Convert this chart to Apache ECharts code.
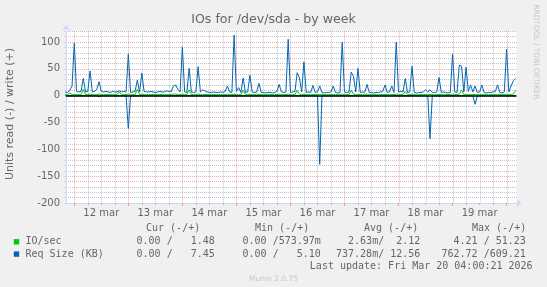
<!DOCTYPE html>
<html><head><meta charset="utf-8">
<script src="https://cdn.jsdelivr.net/npm/echarts@6/dist/echarts.min.js"></script>
<style>html,body{margin:0;padding:0;background:#f0f0f0;}#c{width:547px;height:287px;}</style>
</head><body><div id="c"></div>
<script>
// ---------------- DATA ----------------
const dayLabels = ['12 mar', '13 mar', '14 mar', '15 mar', '16 mar', '17 mar', '18 mar', '19 mar'];
const yTickLabels = [-200, -150, -100, -50, 0, 50, 100];
const firstSampleHour = -4; // hourly samples, hours relative to 12 mar 00:00

// Req Size (KB), write (+)
const reqSizeWrite = [
  7,6,10,18,98,8,7,8,32,7,8,46,7,8,12,26,8,7,8,7,6,8,7,7,
  9,7,8,7,77,6,7,8,29,7,42,8,7,7,8,7,6,7,8,7,7,9,8,7,
  18,20,12,7,91,7,6,51,7,6,7,54,7,11,9,7,6,6,7,6,6,7,6,8,
  18,7,6,113,8,15,6,33,6,7,38,7,6,7,23,6,6,5,6,6,5,6,8,21,
  7,6,7,105,6,7,8,43,33,7,63,6,7,6,19,6,7,18,6,5,6,6,7,18,
  6,5,6,100,7,6,7,44,36,7,51,6,7,6,21,6,6,5,6,6,7,8,20,6,
  7,18,6,100,7,8,7,32,6,7,55,6,5,6,6,7,11,7,11,6,6,7,34,6,
  7,6,5,6,77,7,6,57,55,7,53,8,20,7,18,6,7,20,6,5,6,6,7,8,
  20,6,5,7,87,7,18,28,32
];
// Req Size (KB), read (-)
const reqSizeRead = [
  0,0,0,0,0,0,0,0,0,0,0,0,0,0,0,2,0,0,0,0,0,0,0,0,
  0,0,0,0,61,0,0,0,0,0,0,0,0,0,0,0,0,0,0,0,0,0,0,0,
  0,0,0,0,0,0,0,0,0,0,0,0,0,0,0,0,0,0,0,0,0,0,0,0,
  0,0,0,0,0,0,0,0,0,0,0,0,0,0,0,0,0,0,0,0,0,0,0,0,
  0,0,0,0,0,0,0,0,0,0,0,0,0,0,0,0,0,128,0,0,0,0,0,0,
  0,0,0,0,0,0,0,0,0,0,0,0,0,0,0,0,0,0,0,0,0,0,0,0,
  0,0,0,0,0,0,0,0,0,0,0,0,0,0,0,0,0,0,80,0,0,0,0,0,
  0,0,0,0,0,0,0,0,0,0,0,0,0,0,16,0,0,0,0,0,0,0,0,0,
  0,0,0,0,0,0,0,0,0
];
// IO/sec, write (+)
const ioWrite = [
  2,2,5,2,2,2,2,2,12,2,2,3,2,2,2,3,2,2,2,2,2,2,2,2,
  7,2,2,2,3,2,2,2,12,2,3,2,2,2,2,2,2,2,2,2,2,2,2,2,
  3,3,2,2,3,2,2,11,2,2,2,3,2,2,2,2,2,2,2,2,2,2,2,2,
  3,2,2,3,2,2,2,10,2,2,2,2,2,3,2,2,2,2,2,2,2,2,2,3,
  2,2,2,3,2,2,2,10,3,2,3,2,2,2,2,2,2,2,2,2,2,2,2,2,
  2,2,2,3,2,2,2,10,3,2,2,2,2,2,3,2,2,2,2,2,2,2,2,2,
  2,2,2,3,2,2,2,8,2,2,3,2,2,2,2,2,2,2,2,2,2,2,2,2,
  2,2,2,2,3,2,2,3,10,2,2,2,2,2,2,2,2,2,2,2,2,2,2,2,
  2,2,2,2,3,2,2,3,10
];

const legendHeader = ['Cur (-/+)', 'Min (-/+)', 'Avg (-/+)', 'Max (-/+)'];
const legendNames = ['IO/sec', 'Req Size (KB)'];
const legendCur = ['0.00 /   1.48', '0.00 /   7.45'];
const legendMin = ['0.00 /573.97m', '0.00 /   5.10'];
const legendAvg = ['2.63m/  2.12', '737.28m/ 12.56'];
const legendMax = ['4.21 / 51.23', '762.72 /609.21'];
const titleText = 'IOs for /dev/sda - by week';
const yAxisTitle = 'Units read (-) / write (+)';
const lastUpdate = 'Last update: Fri Mar 20 04:00:21 2026';

// ---------------- CHART ----------------
const X_MIN = -3.68, X_MAX = 196.4;
const RED = 'rgba(222,79,79,0.5)', GRAY = 'rgba(143,143,143,0.55)';
const AXIS = '#CFD6F8', FONT = '#666666';
const C_IO = '#00CC00', C_REQ = '#0066B3';

const toPts = (arr, sign) => arr.map((v, i) => [firstSampleHour + i, sign * v]);

const dayTicks = [], minorTicks = [], labelHours = [], gridHours = [];
for (let h = 0; h <= X_MAX; h += 6) {
  if (h % 24 === 0) dayTicks.push(h); else minorTicks.push(h);
  gridHours.push([h]);
}
dayLabels.forEach((_, i) => labelHours.push(i * 24 + 12));

const mono = '10px "DejaVu Sans Mono"';
const graphic = [
  { type: 'text', x: 273.5, y: 20, style: { text: titleText, font: '12.6px "DejaVu Sans"', fill: FONT, align: 'center', verticalAlign: 'middle', textAlign: 'center', textVerticalAlign: 'middle' } },
  { type: 'text', x: 10.5, y: 114, rotation: Math.PI / 2, style: { text: yAxisTitle, font: '11px "DejaVu Sans"', fill: FONT, align: 'center', verticalAlign: 'middle', textAlign: 'center', textVerticalAlign: 'middle' } },
  { type: 'text', x: 536, y: 52, rotation: -Math.PI / 2, style: { text: 'RRDTOOL / TOBI OETIKER', font: '7.4px "DejaVu Sans"', fill: '#c6c6c6', align: 'center', verticalAlign: 'middle', textAlign: 'center', textVerticalAlign: 'middle' } },
  { type: 'text', x: 273.5, y: 279.4, style: { text: 'Munin 2.0.75', font: '7.5px "DejaVu Sans"', fill: '#c6c6c6', align: 'center', verticalAlign: 'middle', textAlign: 'center', textVerticalAlign: 'middle' } },
  { type: 'text', x: 532.6, y: 266.2, style: { text: lastUpdate, font: mono, fill: FONT, align: 'right', verticalAlign: 'middle', textAlign: 'right', textVerticalAlign: 'middle' } }
];
const headerEnds = [200.2, 309.2, 418.2, 526.2];
legendHeader.forEach((t, i) => graphic.push({ type: 'text', x: headerEnds[i], y: 228.9, style: { text: t, font: mono, fill: FONT, align: 'right', verticalAlign: 'middle', textAlign: 'right', textVerticalAlign: 'middle' } }));
const rowY = [241.8, 254.1];
const colEnds = [214.8, 320.8, 420.3, 525.8];
const rowColors = [C_IO, C_REQ];
legendNames.forEach((name, r) => {
  graphic.push({ type: 'rect', shape: { x: 13.8, y: rowY[r] - 2.7, width: 5.4, height: 5.4 }, style: { fill: rowColors[r] } });
  graphic.push({ type: 'text', x: 25.5, y: rowY[r], style: { text: name, font: mono, fill: FONT, align: 'left', verticalAlign: 'middle', textAlign: 'left', textVerticalAlign: 'middle' } });
  [legendCur, legendMin, legendAvg, legendMax].forEach((col, c) => {
    graphic.push({ type: 'text', x: colEnds[c], y: rowY[r], style: { text: col[r], font: mono, fill: FONT, align: 'right', verticalAlign: 'middle', textAlign: 'right', textVerticalAlign: 'middle' } });
  });
});

const chart = echarts.init(document.getElementById('c'), null, { renderer: 'canvas' });
chart.setOption({
  animation: false,
  backgroundColor: '#f0f0f0',
  grid: { left: 66, right: 30.5, top: 31.3, bottom: 84, show: true, backgroundColor: '#ffffff', borderWidth: 0 },
  xAxis: [{
    type: 'value', min: X_MIN, max: X_MAX,
    axisLine: { show: true, onZero: false, lineStyle: { color: AXIS, width: 1 }, symbol: ['none', 'arrow'], symbolSize: [6, 5], symbolOffset: [0, 5] },
    axisTick: { show: true, customValues: dayTicks, length: 3, lineStyle: { color: RED } },
    axisLabel: { customValues: labelHours, formatter: v => dayLabels[Math.floor(v / 24)] || '', color: FONT, fontFamily: 'DejaVu Sans', fontSize: 10, margin: 5 },
    splitLine: { show: false }
  }, {
    type: 'value', min: X_MIN, max: X_MAX, position: 'bottom',
    axisLine: { show: false, onZero: false },
    axisTick: { show: true, customValues: minorTicks, length: 2, lineStyle: { color: GRAY } },
    axisLabel: { show: false }, splitLine: { show: false }
  }],
  yAxis: {
    type: 'value', min: -200, max: 120, interval: 10,
    axisLine: { show: true, onZero: false, lineStyle: { color: AXIS, width: 1 }, symbol: ['none', 'arrow'], symbolSize: [6, 5], symbolOffset: [0, 6] },
    axisTick: { show: true, length: 2, lineStyle: { color: AXIS } },
    axisLabel: { formatter: v => yTickLabels.includes(v) ? String(v) : '', color: FONT, fontFamily: 'DejaVu Sans', fontSize: 10, margin: 6 },
    splitLine: { show: true, lineStyle: { color: [RED, GRAY, GRAY, GRAY, GRAY], type: [1, 1], width: 1 } }
  },
  graphic: graphic,
  series: [
    { type: 'custom', data: gridHours, z: 1, silent: true, clip: true,
      renderItem: (params, api) => {
        const h = api.value(0);
        const cs = params.coordSys;
        const x = Math.round(api.coord([h, 0])[0]) + 0.5;
        return { type: 'line', shape: { x1: x, y1: cs.y, x2: x, y2: cs.y + cs.height },
          style: { stroke: h % 24 === 0 ? RED : GRAY, lineWidth: 1, lineDash: [1, 1] } };
      } },
    { name: 'Req Size read', type: 'line', data: toPts(reqSizeRead, -1), showSymbol: false, symbol: 'none', z: 10,
      lineStyle: { color: C_REQ, width: 1 }, itemStyle: { color: C_REQ } },
    { name: 'Req Size write', type: 'line', data: toPts(reqSizeWrite, 1), showSymbol: false, symbol: 'none', z: 10,
      lineStyle: { color: C_REQ, width: 1 }, itemStyle: { color: C_REQ } },
    { type: 'line', data: [], z: 11, silent: true,
      markLine: { z: 11, silent: true, symbol: ['none', 'none'], label: { show: false }, lineStyle: { type: 'solid', width: 1.5, color: '#000' }, data: [{ yAxis: 0 }] } },
    { name: 'IO/sec write', type: 'line', data: toPts(ioWrite, 1), showSymbol: false, symbol: 'none', z: 12,
      lineStyle: { color: C_IO, width: 1 }, itemStyle: { color: C_IO } }
  ]
});
</script></body></html>
